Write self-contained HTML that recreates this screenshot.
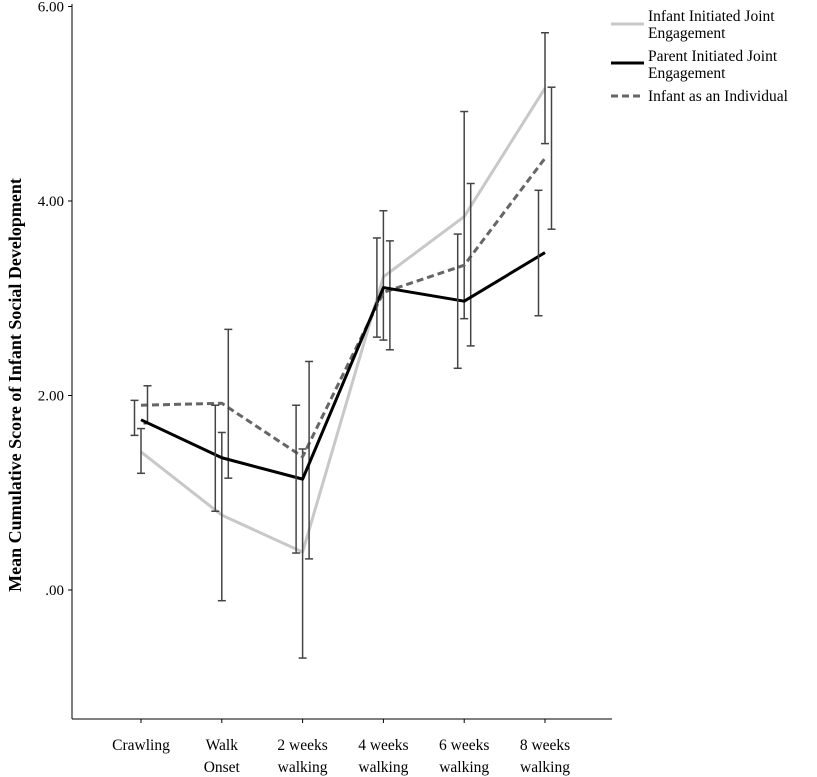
<!DOCTYPE html>
<html><head><meta charset="utf-8"><style>
html,body{margin:0;padding:0;background:#fff}
svg{display:block;font-family:"Liberation Serif",serif}
</style></head><body>
<svg id="chart" width="817" height="777" viewBox="0 0 817 777">
<g id="axes"></g>
<g id="series"></g>
<text transform="translate(21,385) rotate(-90)" text-anchor="middle" font-size="18" font-weight="bold" fill="#000">Mean Cumulative Score of Infant Social Development</text>
<g font-size="15.5" fill="#000">
<g><line x1="611" x2="644" y1="24" y2="24" stroke="#c8c8c8" stroke-width="3"/><text x="648" y="21">Infant Initiated Joint</text><text x="648" y="38">Engagement</text></g>
<g><line x1="611" x2="644" y1="63" y2="63" stroke="#000" stroke-width="3"/><text x="648" y="61">Parent Initiated Joint</text><text x="648" y="78">Engagement</text></g>
<g><line x1="611" x2="644" y1="96" y2="96" stroke="#666" stroke-width="3" stroke-dasharray="7,4"/><text x="648" y="101">Infant as an Individual</text></g>
</g>
</svg>
<script>
const categories=[["Crawling"],["Walk","Onset"],["2 weeks","walking"],["4 weeks","walking"],["6 weeks","walking"],["8 weeks","walking"]];
const yTicks=[0,2,4,6];
const yTickLabels=[".00","2.00","4.00","6.00"];
const infantMean=[1.42,0.77,0.39,3.22,3.84,5.16];
const infantLo=[1.20,-0.11,-0.70,2.57,2.79,4.59];
const infantHi=[1.66,1.62,1.45,3.90,4.92,5.73];
const parentMean=[1.75,1.36,1.14,3.11,2.97,3.47];
const parentLo=[1.59,0.81,0.38,2.60,2.28,2.82];
const parentHi=[1.95,1.90,1.90,3.62,3.66,4.11];
const indivMean=[1.90,1.92,1.37,3.06,3.34,4.44];
const indivLo=[1.71,1.15,0.32,2.47,2.51,3.71];
const indivHi=[2.10,2.68,2.35,3.59,4.18,5.17];

const NS="http://www.w3.org/2000/svg";
const yPx=v=>590-v*97.25;
const xPx=i=>141+i*80.8;
function mk(tag,attrs,parent){const e=document.createElementNS(NS,tag);for(const k in attrs)e.setAttribute(k,attrs[k]);parent.appendChild(e);return e;}
const axes=document.getElementById('axes');
const yAxis=mk('line',{x1:72,x2:72,y1:4,y2:719,stroke:'#000','stroke-width':1},axes);


const xAxis=mk('line',{x1:72,x2:612,y1:719,y2:719,stroke:'#000','stroke-width':1},axes);


yTicks.forEach((v,i)=>{
  const t=mk('line',{x1:68,x2:72,y1:yPx(v),y2:yPx(v),stroke:'#000'},axes);
  
  
  const l=mk('text',{x:64,y:yPx(v)+5,'text-anchor':'end','font-size':15},axes);
  
  
  l.textContent=yTickLabels[i];
});
categories.forEach((c,i)=>{
  const t=mk('line',{x1:xPx(i),x2:xPx(i),y1:719,y2:723,stroke:'#000'},axes);
  
  
  c.forEach((s,j)=>{
    const l=mk('text',{x:xPx(i),y:750+j*22,'text-anchor':'middle','font-size':15.5},axes);
    
    
    l.textContent=s;
  });
});
const ser=document.getElementById('series');
function drawSeries(name,mean,lo,hi,color,dash,off){
  const pts=mean.map((v,i)=>xPx(i)+','+yPx(v)).join(' ');
  const attrs={points:pts,fill:'none',stroke:color,'stroke-width':3,'stroke-linejoin':'round'};
  if(dash)attrs['stroke-dasharray']=dash;
  const pl=mk('polyline',attrs,ser);
  
  
  mean.forEach((v,i)=>{
    const x=xPx(i)+off;
    const g=mk('g',{stroke:'#444','stroke-width':1.5},ser);
    
    
    mk('line',{x1:x,x2:x,y1:yPx(hi[i]),y2:yPx(lo[i])},g);
    mk('line',{x1:x-4,x2:x+4,y1:yPx(hi[i]),y2:yPx(hi[i])},g);
    mk('line',{x1:x-4,x2:x+4,y1:yPx(lo[i]),y2:yPx(lo[i])},g);
  });
}
drawSeries('infant-initiated',infantMean,infantLo,infantHi,'#c8c8c8',null,0);
drawSeries('infant-individual',indivMean,indivLo,indivHi,'#666','7,4',6.5);
drawSeries('parent-initiated',parentMean,parentLo,parentHi,'#000',null,-6.5);
</script>
</body></html>
